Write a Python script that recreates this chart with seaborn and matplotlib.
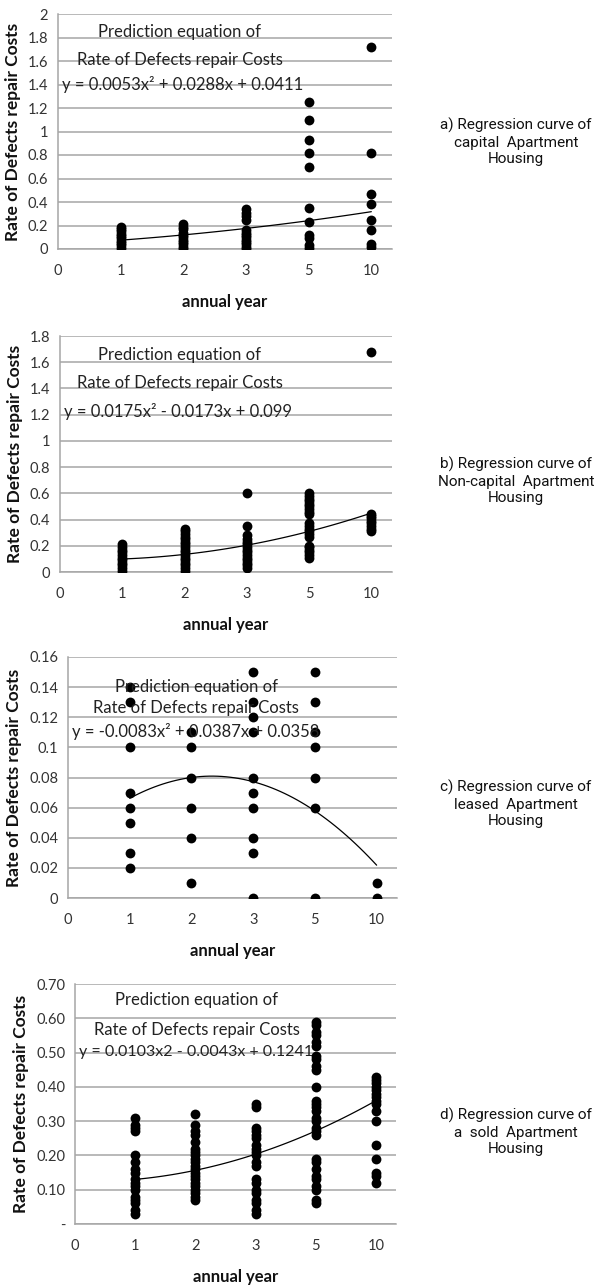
import numpy as np
import matplotlib
matplotlib.use("Agg")
import matplotlib.pyplot as plt
import seaborn as sns
import pandas as pd

sns.set_style("white")
plt.rcParams['font.family'] = ['Lato', 'DejaVu Sans']

# x axis categories (plotted at positions 0..5)
year_labels = ["0", "1", "2", "3", "5", "10"]

# a) capital apartment housing
a_y1 = [0.01, 0.03, 0.05, 0.07, 0.09, 0.11, 0.13, 0.15, 0.17, 0.19]
a_y2 = [0.0, 0.02, 0.04, 0.06, 0.08, 0.10, 0.12, 0.14, 0.17, 0.19, 0.21]
a_y3 = [0.0, 0.02, 0.04, 0.06, 0.08, 0.10, 0.12, 0.14, 0.16, 0.25, 0.28, 0.31, 0.34]
a_y5 = [1.25, 1.10, 0.93, 0.82, 0.70, 0.35, 0.23, 0.12, 0.09, 0.03, 0.01]
a_y10 = [1.72, 0.82, 0.47, 0.38, 0.25, 0.16, 0.04, 0.02]
a_coef = [0.0053, 0.0288, 0.0411]

# b) non-capital apartment housing
b_y1 = [0.01, 0.03, 0.05, 0.07, 0.09, 0.11, 0.13, 0.15, 0.17, 0.19, 0.21]
b_y2 = [0.01, 0.03, 0.05, 0.07, 0.09, 0.11, 0.13, 0.15, 0.17, 0.19, 0.21, 0.23, 0.25, 0.27, 0.29, 0.31, 0.33]
b_y3 = [0.03, 0.05, 0.07, 0.09, 0.11, 0.13, 0.15, 0.17, 0.19, 0.21, 0.23, 0.25, 0.28, 0.35, 0.60]
b_y5 = [0.11, 0.13, 0.15, 0.17, 0.19, 0.20, 0.27, 0.29, 0.31, 0.33, 0.35, 0.37, 0.44, 0.46, 0.48, 0.50,
        0.52, 0.54, 0.56, 0.58, 0.60]
b_y10 = [1.68, 0.31, 0.33, 0.35, 0.37, 0.39, 0.41, 0.43, 0.44]
b_coef = [0.0175, -0.0173, 0.099]

# c) leased apartment housing
c_y1 = [0.14, 0.13, 0.10, 0.07, 0.06, 0.05, 0.03, 0.02]
c_y2 = [0.11, 0.10, 0.08, 0.06, 0.04, 0.01]
c_y3 = [0.15, 0.13, 0.12, 0.11, 0.08, 0.07, 0.06, 0.04, 0.03, 0.0]
c_y5 = [0.15, 0.13, 0.11, 0.10, 0.08, 0.06, 0.0]
c_y10 = [0.01, 0.0]
c_coef = [-0.0083, 0.0387, 0.0358]

# d) sold apartment housing
d_y1 = [0.03, 0.04, 0.06, 0.07, 0.08, 0.10, 0.11, 0.12, 0.13, 0.15, 0.16, 0.18, 0.20, 0.27, 0.28, 0.29, 0.31]
d_y2 = [0.07, 0.08, 0.09, 0.10, 0.11, 0.12, 0.13, 0.14, 0.15, 0.16, 0.17, 0.18, 0.19, 0.20, 0.21, 0.22,
        0.24, 0.26, 0.27, 0.29, 0.32]
d_y3 = [0.03, 0.04, 0.06, 0.07, 0.09, 0.10, 0.12, 0.13, 0.17, 0.18, 0.20, 0.21, 0.22, 0.23, 0.25, 0.26,
        0.27, 0.28, 0.34, 0.35]
d_y5 = [0.06, 0.07, 0.10, 0.11, 0.13, 0.14, 0.16, 0.18, 0.19, 0.26, 0.27, 0.28, 0.30, 0.31, 0.33, 0.34,
        0.35, 0.36, 0.40, 0.45, 0.46, 0.48, 0.49, 0.52, 0.53, 0.55, 0.56, 0.58, 0.59]
d_y10 = [0.12, 0.14, 0.15, 0.19, 0.23, 0.30, 0.33, 0.35, 0.36, 0.37, 0.38, 0.39, 0.40, 0.41, 0.42, 0.43]
d_coef = [0.0103, -0.0043, 0.1241]

eq_texts = ["y = 0.0053x\u00b2 + 0.0288x + 0.0411",
            "y = 0.0175x\u00b2 - 0.0173x + 0.099",
            "y = -0.0083x\u00b2 + 0.0387x + 0.0358",
            "y = 0.0103x2 - 0.0043x + 0.1241"]
side_texts = ["a) Regression curve of\ncapital  Apartment\nHousing",
              "b) Regression curve of\nNon-capital  Apartment\nHousing",
              "c) Regression curve of\nleased  Apartment\nHousing",
              "d) Regression curve of\na  sold  Apartment\nHousing"]

panels = [
    dict(cols=[a_y1, a_y2, a_y3, a_y5, a_y10], coef=a_coef, ymax=2.0, step=0.2,
         ylabels=["0", "0.2", "0.4", "0.6", "0.8", "1", "1.2", "1.4", "1.6", "1.8", "2"],
         rect=[58, 14, 392, 249], text_y=[0.923, 0.804, 0.698], cx=0.365, side_y=142, eq_fs=12),
    dict(cols=[b_y1, b_y2, b_y3, b_y5, b_y10], coef=b_coef, ymax=1.8, step=0.2,
         ylabels=["0", "0.2", "0.4", "0.6", "0.8", "1", "1.2", "1.4", "1.6", "1.8"],
         rect=[60, 336, 392, 572], text_y=[0.92, 0.80, 0.68], cx=0.36, side_y=481, eq_fs=12),
    dict(cols=[c_y1, c_y2, c_y3, c_y5, c_y10], coef=c_coef, ymax=0.16, step=0.02,
         ylabels=["0", "0.02", "0.04", "0.06", "0.08", "0.1", "0.12", "0.14", "0.16"],
         rect=[68, 657, 397, 898], text_y=[0.875, 0.788, 0.69], cx=0.39, side_y=804, eq_fs=12),
    dict(cols=[d_y1, d_y2, d_y3, d_y5, d_y10], coef=d_coef, ymax=0.70, step=0.10,
         ylabels=["-", "0.10", "0.20", "0.30", "0.40", "0.50", "0.60", "0.70"],
         rect=[75, 984, 396, 1224], text_y=[0.933, 0.808, 0.717], cx=0.38, side_y=1132, eq_fs=11.5),
]

W, H = 594, 1286
fig = plt.figure(figsize=(W / 100, H / 100), dpi=100)
grid_c = "#a6a6a6"

for i, p in enumerate(panels):
    l, t, r, b = p["rect"]
    ax = fig.add_axes([l / W, 1 - b / H, (r - l) / W, (b - t) / H])
    rows = []
    for k, vals in enumerate(p["cols"]):
        for v in vals:
            rows.append({"pos": k + 1, "rate": v})
    df = pd.DataFrame(rows)
    xs = np.linspace(1, 5, 60)
    curve = pd.DataFrame({"pos": xs, "rate": np.polyval(p["coef"], xs)})

    ax.set_axisbelow(True)
    sns.lineplot(data=curve, x="pos", y="rate", ax=ax, color="black", lw=0.9)
    sns.scatterplot(data=df, x="pos", y="rate", ax=ax, color="black", s=50,
                    edgecolor="black", linewidth=0, zorder=3)

    ticks = np.arange(0, p["ymax"] + p["step"] / 2, p["step"])
    ax.set_yticks(ticks)
    ax.set_yticklabels(p["ylabels"])
    ax.set_ylim(0, p["ymax"])
    ax.set_xlim(0, 5.33)
    ax.set_xticks(range(6))
    ax.set_xticklabels(year_labels)
    ax.yaxis.grid(True, color=grid_c, lw=1.1)
    ax.xaxis.grid(False)
    for s in ["top", "right"]:
        ax.spines[s].set_visible(False)
    for s in ["left", "bottom"]:
        ax.spines[s].set_color(grid_c)
        ax.spines[s].set_linewidth(1.1)
    ax.tick_params(axis="both", labelsize=10.5, colors="#333333", length=3,
                   color=grid_c, direction="out", pad=4)
    ax.tick_params(axis="x", pad=8)
    ax.set_ylabel("Rate of Defects repair Costs", fontsize=12.5, fontweight="bold",
                  color="#111111", labelpad=5)
    ax.set_xlabel("annual year", fontsize=12, fontweight="bold", color="#111111",
                  labelpad=11)

    ty = p["text_y"]
    ax.text(p["cx"], ty[0], "Prediction equation of", transform=ax.transAxes,
            ha="center", va="center", fontsize=12, color="#222222")
    ax.text(p["cx"], ty[1], "Rate of Defects repair Costs", transform=ax.transAxes,
            ha="center", va="center", fontsize=12, color="#222222")
    ax.text(0.012, ty[2], eq_texts[i], transform=ax.transAxes,
            ha="left", va="center", fontsize=p["eq_fs"], color="#222222")

    fig.text(516 / W, 1 - p["side_y"] / H, side_texts[i], ha="center", va="center",
             ma="center", fontsize=11, linespacing=1.2,
             family=["Roboto", "DejaVu Sans"], color="#111111")

fig.savefig("out.png", dpi=100, facecolor="white")
